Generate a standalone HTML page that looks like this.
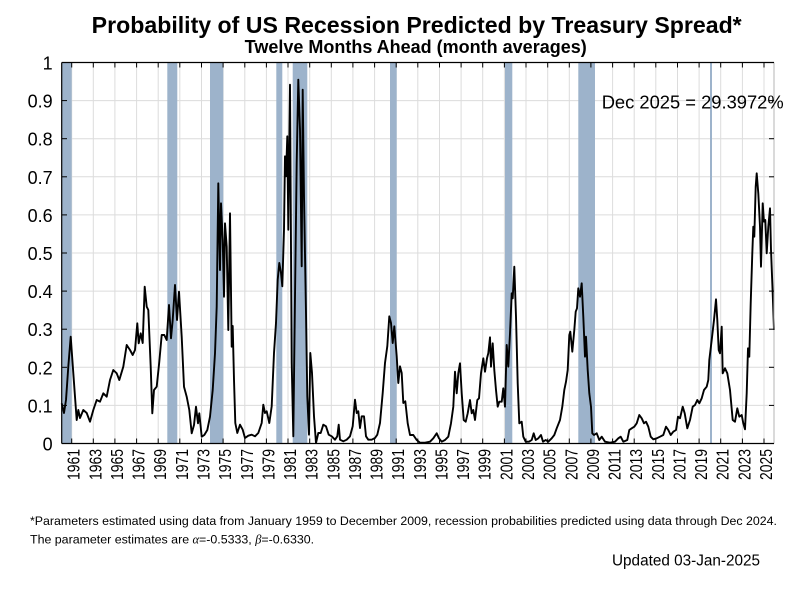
<!DOCTYPE html>
<html><head><meta charset="utf-8"><style>
html,body{margin:0;padding:0;background:#fff;}
svg{display:block;}
text{font-family:"Liberation Sans",Arial,sans-serif;fill:#000;}
</style></head><body>
<svg width="800" height="590" viewBox="0 0 800 590" xmlns="http://www.w3.org/2000/svg">
<rect width="800" height="590" fill="#fff"/>
<!-- titles -->
<text x="91.7" y="33" font-size="23" font-weight="bold" textLength="650" lengthAdjust="spacingAndGlyphs">Probability of US Recession Predicted by Treasury Spread*</text>
<text x="415.7" y="53" font-size="18" font-weight="bold" text-anchor="middle">Twelve Months Ahead (month averages)</text>

<!-- grid -->
<g stroke="#dcdcdc" stroke-width="1">
<line x1="61.7" x2="774" y1="405.4" y2="405.4"/>
<line x1="61.7" x2="774" y1="367.3" y2="367.3"/>
<line x1="61.7" x2="774" y1="329.2" y2="329.2"/>
<line x1="61.7" x2="774" y1="291.1" y2="291.1"/>
<line x1="61.7" x2="774" y1="253" y2="253"/>
<line x1="61.7" x2="774" y1="214.9" y2="214.9"/>
<line x1="61.7" x2="774" y1="176.8" y2="176.8"/>
<line x1="61.7" x2="774" y1="138.7" y2="138.7"/>
<line x1="61.7" x2="774" y1="100.6" y2="100.6"/>
<line x1="71.7" x2="71.7" y1="62.5" y2="443.5"/>
<line x1="93.3" x2="93.3" y1="62.5" y2="443.5"/>
<line x1="114.9" x2="114.9" y1="62.5" y2="443.5"/>
<line x1="136.6" x2="136.6" y1="62.5" y2="443.5"/>
<line x1="158.2" x2="158.2" y1="62.5" y2="443.5"/>
<line x1="179.8" x2="179.8" y1="62.5" y2="443.5"/>
<line x1="201.5" x2="201.5" y1="62.5" y2="443.5"/>
<line x1="223.1" x2="223.1" y1="62.5" y2="443.5"/>
<line x1="244.8" x2="244.8" y1="62.5" y2="443.5"/>
<line x1="266.4" x2="266.4" y1="62.5" y2="443.5"/>
<line x1="288.0" x2="288.0" y1="62.5" y2="443.5"/>
<line x1="309.7" x2="309.7" y1="62.5" y2="443.5"/>
<line x1="331.3" x2="331.3" y1="62.5" y2="443.5"/>
<line x1="352.9" x2="352.9" y1="62.5" y2="443.5"/>
<line x1="374.6" x2="374.6" y1="62.5" y2="443.5"/>
<line x1="396.2" x2="396.2" y1="62.5" y2="443.5"/>
<line x1="417.8" x2="417.8" y1="62.5" y2="443.5"/>
<line x1="439.5" x2="439.5" y1="62.5" y2="443.5"/>
<line x1="461.1" x2="461.1" y1="62.5" y2="443.5"/>
<line x1="482.7" x2="482.7" y1="62.5" y2="443.5"/>
<line x1="504.4" x2="504.4" y1="62.5" y2="443.5"/>
<line x1="526.0" x2="526.0" y1="62.5" y2="443.5"/>
<line x1="547.7" x2="547.7" y1="62.5" y2="443.5"/>
<line x1="569.3" x2="569.3" y1="62.5" y2="443.5"/>
<line x1="590.9" x2="590.9" y1="62.5" y2="443.5"/>
<line x1="612.6" x2="612.6" y1="62.5" y2="443.5"/>
<line x1="634.2" x2="634.2" y1="62.5" y2="443.5"/>
<line x1="655.8" x2="655.8" y1="62.5" y2="443.5"/>
<line x1="677.5" x2="677.5" y1="62.5" y2="443.5"/>
<line x1="699.1" x2="699.1" y1="62.5" y2="443.5"/>
<line x1="720.7" x2="720.7" y1="62.5" y2="443.5"/>
<line x1="742.4" x2="742.4" y1="62.5" y2="443.5"/>
<line x1="764.0" x2="764.0" y1="62.5" y2="443.5"/>
</g>

<!-- recession bands -->
<g fill="#9db3cb">
<rect x="61.7" y="62.5" width="10" height="381"/>
<rect x="167.3" y="62.5" width="10" height="381"/>
<rect x="210" y="62.5" width="13.3" height="381"/>
<rect x="276.3" y="62.5" width="6" height="381"/>
<rect x="292.7" y="62.5" width="14.6" height="381"/>
<rect x="390" y="62.5" width="6.7" height="381"/>
<rect x="505" y="62.5" width="7.3" height="381"/>
<rect x="578.3" y="62.5" width="16.7" height="381"/>
<rect x="710" y="62.5" width="2" height="381"/>
</g>

<!-- series -->
<polyline fill="none" stroke="#000" stroke-width="1.9" stroke-linejoin="round" points="
61.7,403.3 64,413 66,400 68.3,366.7 70.7,336.7 73.3,373 75,396.7 76.7,420 78.3,410 80,418 83.3,410 86.7,413 90,421.7 93.3,410 96.7,400 100,401.7 103.3,393.3 106.7,396.7 110,380 113.3,370 116.7,373.3 119.3,380 123.3,366.7 126.7,345 130,350 132.7,355 135,350 137.3,323.3 138.7,343.3 140.7,333.3 142.7,343 144.7,286.7 146.7,306.7 148.3,310 150.7,366.7 152.3,413.3 154,390 156.7,386.7 159.3,361.7 161.7,335 164.3,335 166.7,340 169,305 171,338.3 172.7,320 175,285 177,320 179,291.7 181.7,336.7 184,386.7 186.7,396.7 189.3,410 191.7,433.3 194,425 196,406.7 198,423.3 199.3,413.3 201.7,436.7 204.3,435 207.3,430 210,416.7 212.7,390 215,353.3 216.7,306.7 218.3,183.3 220,270 221,203.3 222.7,240 224,296.7 225,223.3 226.7,246.7 228.3,330 230,213.3 231.7,346.7 232.7,326 234,379.7 235.3,423 237.3,433
240,424.7 242.7,429.7 245,438 248.3,435.7 251.7,434.7 255,436.3 258.3,433 261.7,423 263.3,404.7 265,413 266.7,411.3 269.3,423 271.7,406.3 274,353 276,323 277.7,279.7 279.3,263 281,273 282.3,286.3 284,229.7 285,156.3 286,176.3 287.3,136.3 288.3,229.7 290,84.7 291.7,363 293.3,436.3 295,296.3 296.7,163 298.3,79.7 300,129.7 301.7,266.3 302.7,89.7 304,196.3 306,313 307.3,396.3 309,434.7 310.3,353 312,373 314,416.3 316,443 318.3,433 320.7,433 323.3,424.7 326,426.3 328.7,434.7 331.7,436.3 335,439.7 337.3,436.3 338.7,424.7 340,439.7 343.3,441.3 346.7,439.7 350,436.3 352.7,426.3 355,399.7 356.7,413 358.3,411.3 360,428 361.7,416.3 364,416.3 366,436.3 368.3,439.7 371.7,439.7 375,438 377.3,434.7 380,423 382.7,393 385,363 387.3,346.3 389.3,316.3 391,323 392.7,343 394.3,326.3 396.7,356.3 398.3,383 400,366.3 401.7,373 403.3,403 405.3,401.3 407.7,423.3 410,435
413.3,435 416.7,440 420,442.7 425,442.7 430,441.7 433.3,438.3 436.7,433.3 439,438.3 441.7,441.7 445,440 448.3,436.7 451,423.3 453.3,406.7 455,371.7 456.7,393.3 458.3,373.3 460,363.3 461.7,393.3 463.7,420 465.7,421.7 467.7,413.3 470,400 471.7,413.3 473.3,410 475,420 477.3,400 479,398.3 481,373.3 483.3,358.3 485,371.7 487,358.3 488.3,353.3 490,337.3 491,366.7 492.7,343.3 494.3,370 496,390 497.7,406.7 499.3,401.7 501.7,401.7 503.3,388.3 505,406.7 506.7,345 508.3,366.7 510,333.3 511.7,293.3 512.7,298.3 514.3,266.7 516,316.7 517.7,383.3 519.3,423.3 521.7,421.7 523.3,436.7 525.7,441.7 529,441.7 531.7,440 533.7,433.3 535.7,440 538.3,438.3 541,435 543,441.7 545.7,440 548.3,441.7 551.7,438.3 554.3,435 556.7,428.3 560,420 562.3,406.7 564.3,390 566,381.7 567.7,370 569.3,335 570.3,331.7 572.3,351.7 574.3,330 575.7,311.7 577,308.3 578.3,288.3 580,296.7 581.7,283.3 583.3,316.7 585,356.7 586,336.7 587.7,370 589.3,393.3 591,406.7 592.3,433.3
594,435 596.7,433.3 599.3,440 601.7,436.7 605,441.7 610,442.7 615,441.7 618.3,438.3 620.7,436.7 623.3,441.7 627.3,440 629.3,430 631.7,428.3 634.3,426.7 636.7,423.3 639.3,415 641.7,418.3 644,423.3 646,421.7 648.3,426.7 650.7,436.7 653.3,439.3 656.7,438.3 660,436.7 663.3,435 666,426.7 668.3,430 670.7,435 673.3,431.7 676,430 678,416.7 680,418.3 682.7,406.7 684.7,413.3 687.3,428.3 690,420 692.7,406.7 695,405 697.3,400 699.3,403.3 701.7,398.3 704,390 706.7,386.7 708.3,380 709.3,360 711.7,340 714,320 716,299.3 717.3,320 718.7,350 720,353.3 721.7,326.7 722.7,373.3 725,368.3 727.3,373.3 730,390 732.7,420 735,421.7 737.3,408.3 739.3,416.7 741.7,415 743.3,423.3 745,429.3 746.7,393.3 748,348.3 749.3,356.7 750.7,303.3 752.3,253.3 753.3,226.7 754.3,236.7 755.7,186.7 756.7,173.3 758.3,193.3 760,226.7 761,266.7 762.7,203.3 764,221.7 765.3,220 766.7,253.3 768.3,226.7 770,208.3 771,250 772.7,293.3 774,330"/>

<!-- axes frame -->
<line x1="774" y1="62.5" x2="774" y2="443.5" stroke="#b4b4b4" stroke-width="1"/>
<g stroke="#000" stroke-width="1.2">
<line x1="61.7" y1="62.5" x2="774" y2="62.5"/>
<line x1="61.7" y1="443.5" x2="774" y2="443.5"/>
<line x1="61.7" y1="62.5" x2="61.7" y2="443.5"/>
</g>
<!-- y ticks -->
<g stroke="#000" stroke-width="1">
<line x1="61.7" x2="67" y1="405.4" y2="405.4"/><line x1="774" x2="769" y1="405.4" y2="405.4"/>
<line x1="61.7" x2="67" y1="367.3" y2="367.3"/><line x1="774" x2="769" y1="367.3" y2="367.3"/>
<line x1="61.7" x2="67" y1="329.2" y2="329.2"/><line x1="774" x2="769" y1="329.2" y2="329.2"/>
<line x1="61.7" x2="67" y1="291.1" y2="291.1"/><line x1="774" x2="769" y1="291.1" y2="291.1"/>
<line x1="61.7" x2="67" y1="253" y2="253"/><line x1="774" x2="769" y1="253" y2="253"/>
<line x1="61.7" x2="67" y1="214.9" y2="214.9"/><line x1="774" x2="769" y1="214.9" y2="214.9"/>
<line x1="61.7" x2="67" y1="176.8" y2="176.8"/><line x1="774" x2="769" y1="176.8" y2="176.8"/>
<line x1="61.7" x2="67" y1="138.7" y2="138.7"/><line x1="774" x2="769" y1="138.7" y2="138.7"/>
<line x1="61.7" x2="67" y1="100.6" y2="100.6"/><line x1="774" x2="769" y1="100.6" y2="100.6"/>
</g>
<!-- x ticks top and bottom -->
<g stroke="#000" stroke-width="1">
<path d="M71.7 62.5v5M93.3 62.5v5M114.9 62.5v5M136.6 62.5v5M158.2 62.5v5M179.8 62.5v5M201.5 62.5v5M223.1 62.5v5M244.8 62.5v5M266.4 62.5v5M288 62.5v5M309.7 62.5v5M331.3 62.5v5M352.9 62.5v5M374.6 62.5v5M396.2 62.5v5M417.8 62.5v5M439.5 62.5v5M461.1 62.5v5M482.7 62.5v5M504.4 62.5v5M526 62.5v5M547.7 62.5v5M569.3 62.5v5M590.9 62.5v5M612.6 62.5v5M634.2 62.5v5M655.8 62.5v5M677.5 62.5v5M699.1 62.5v5M720.7 62.5v5M742.4 62.5v5M764 62.5v5"/>
<path d="M71.7 443.5v-5M93.3 443.5v-5M114.9 443.5v-5M136.6 443.5v-5M158.2 443.5v-5M179.8 443.5v-5M201.5 443.5v-5M223.1 443.5v-5M244.8 443.5v-5M266.4 443.5v-5M288 443.5v-5M309.7 443.5v-5M331.3 443.5v-5M352.9 443.5v-5M374.6 443.5v-5M396.2 443.5v-5M417.8 443.5v-5M439.5 443.5v-5M461.1 443.5v-5M482.7 443.5v-5M504.4 443.5v-5M526 443.5v-5M547.7 443.5v-5M569.3 443.5v-5M590.9 443.5v-5M612.6 443.5v-5M634.2 443.5v-5M655.8 443.5v-5M677.5 443.5v-5M699.1 443.5v-5M720.7 443.5v-5M742.4 443.5v-5M764 443.5v-5"/>
</g>

<!-- y labels -->
<g font-size="18" text-anchor="end">
<text x="52.7" y="450.5">0</text>
<text x="52.7" y="412.4">0.1</text>
<text x="52.7" y="374.3">0.2</text>
<text x="52.7" y="336.2">0.3</text>
<text x="52.7" y="298.1">0.4</text>
<text x="52.7" y="260">0.5</text>
<text x="52.7" y="221.9">0.6</text>
<text x="52.7" y="183.8">0.7</text>
<text x="52.7" y="145.7">0.8</text>
<text x="52.7" y="107.6">0.9</text>
<text x="52.7" y="69.5">1</text>
</g>

<!-- x labels -->
<g font-size="17.5" text-anchor="end">
<text transform="translate(79.7,449) rotate(-90)" textLength="31" lengthAdjust="spacingAndGlyphs">1961</text>
<text transform="translate(101.3,449) rotate(-90)" textLength="31" lengthAdjust="spacingAndGlyphs">1963</text>
<text transform="translate(122.9,449) rotate(-90)" textLength="31" lengthAdjust="spacingAndGlyphs">1965</text>
<text transform="translate(144.6,449) rotate(-90)" textLength="31" lengthAdjust="spacingAndGlyphs">1967</text>
<text transform="translate(166.2,449) rotate(-90)" textLength="31" lengthAdjust="spacingAndGlyphs">1969</text>
<text transform="translate(187.8,449) rotate(-90)" textLength="31" lengthAdjust="spacingAndGlyphs">1971</text>
<text transform="translate(209.5,449) rotate(-90)" textLength="31" lengthAdjust="spacingAndGlyphs">1973</text>
<text transform="translate(231.1,449) rotate(-90)" textLength="31" lengthAdjust="spacingAndGlyphs">1975</text>
<text transform="translate(252.8,449) rotate(-90)" textLength="31" lengthAdjust="spacingAndGlyphs">1977</text>
<text transform="translate(274.4,449) rotate(-90)" textLength="31" lengthAdjust="spacingAndGlyphs">1979</text>
<text transform="translate(296,449) rotate(-90)" textLength="31" lengthAdjust="spacingAndGlyphs">1981</text>
<text transform="translate(317.7,449) rotate(-90)" textLength="31" lengthAdjust="spacingAndGlyphs">1983</text>
<text transform="translate(339.3,449) rotate(-90)" textLength="31" lengthAdjust="spacingAndGlyphs">1985</text>
<text transform="translate(360.9,449) rotate(-90)" textLength="31" lengthAdjust="spacingAndGlyphs">1987</text>
<text transform="translate(382.6,449) rotate(-90)" textLength="31" lengthAdjust="spacingAndGlyphs">1989</text>
<text transform="translate(404.2,449) rotate(-90)" textLength="31" lengthAdjust="spacingAndGlyphs">1991</text>
<text transform="translate(425.8,449) rotate(-90)" textLength="31" lengthAdjust="spacingAndGlyphs">1993</text>
<text transform="translate(447.5,449) rotate(-90)" textLength="31" lengthAdjust="spacingAndGlyphs">1995</text>
<text transform="translate(469.1,449) rotate(-90)" textLength="31" lengthAdjust="spacingAndGlyphs">1997</text>
<text transform="translate(490.7,449) rotate(-90)" textLength="31" lengthAdjust="spacingAndGlyphs">1999</text>
<text transform="translate(512.4,449) rotate(-90)" textLength="31" lengthAdjust="spacingAndGlyphs">2001</text>
<text transform="translate(534,449) rotate(-90)" textLength="31" lengthAdjust="spacingAndGlyphs">2003</text>
<text transform="translate(555.7,449) rotate(-90)" textLength="31" lengthAdjust="spacingAndGlyphs">2005</text>
<text transform="translate(577.3,449) rotate(-90)" textLength="31" lengthAdjust="spacingAndGlyphs">2007</text>
<text transform="translate(598.9,449) rotate(-90)" textLength="31" lengthAdjust="spacingAndGlyphs">2009</text>
<text transform="translate(620.6,449) rotate(-90)" textLength="31" lengthAdjust="spacingAndGlyphs">2011</text>
<text transform="translate(642.2,449) rotate(-90)" textLength="31" lengthAdjust="spacingAndGlyphs">2013</text>
<text transform="translate(663.8,449) rotate(-90)" textLength="31" lengthAdjust="spacingAndGlyphs">2015</text>
<text transform="translate(685.5,449) rotate(-90)" textLength="31" lengthAdjust="spacingAndGlyphs">2017</text>
<text transform="translate(707.1,449) rotate(-90)" textLength="31" lengthAdjust="spacingAndGlyphs">2019</text>
<text transform="translate(728.7,449) rotate(-90)" textLength="31" lengthAdjust="spacingAndGlyphs">2021</text>
<text transform="translate(750.4,449) rotate(-90)" textLength="31" lengthAdjust="spacingAndGlyphs">2023</text>
<text transform="translate(772,449) rotate(-90)" textLength="31" lengthAdjust="spacingAndGlyphs">2025</text>
</g>

<!-- annotation -->
<text x="601.7" y="108.3" font-size="18.5" textLength="182" lengthAdjust="spacingAndGlyphs">Dec 2025 = 29.3972%</text>

<!-- footnotes -->
<text x="30" y="525" font-size="12.4" textLength="747" lengthAdjust="spacingAndGlyphs">*Parameters estimated using data from January 1959 to December 2009, recession probabilities predicted using data through Dec 2024.</text>
<text x="30" y="543.5" font-size="12.4">The parameter estimates are <tspan font-family="Liberation Serif, serif" font-style="italic">α</tspan>=-0.5333, <tspan font-family="Liberation Serif, serif" font-style="italic">β</tspan>=-0.6330.</text>
<text x="612" y="565.5" font-size="15.3" textLength="148" lengthAdjust="spacingAndGlyphs">Updated 03-Jan-2025</text>
</svg>
</body></html>
